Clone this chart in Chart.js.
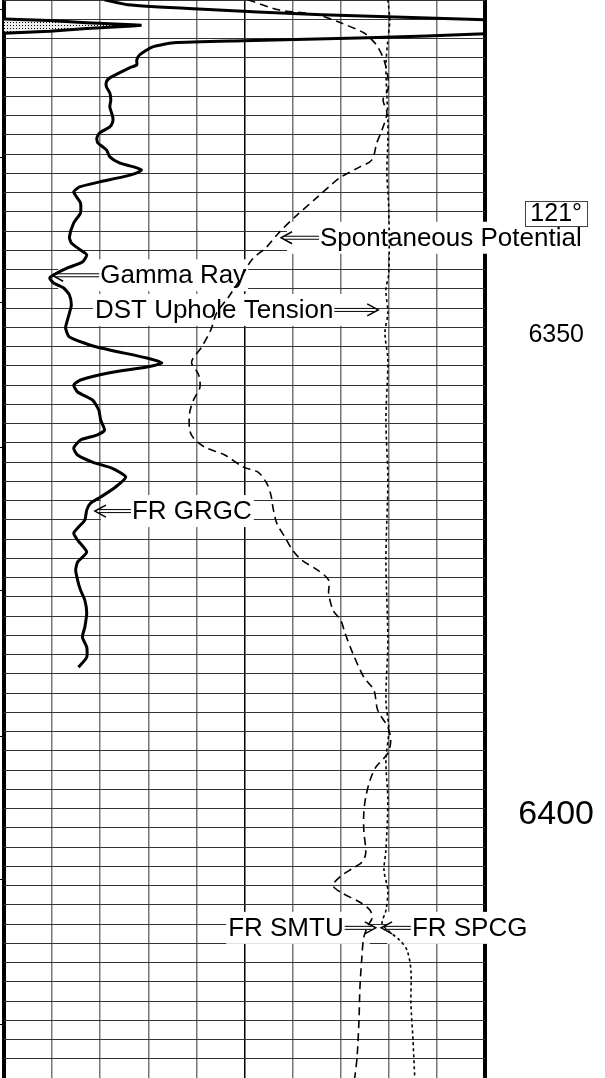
<!DOCTYPE html>
<html>
<head>
<meta charset="utf-8">
<script src="https://cdn.jsdelivr.net/npm/chart.js@4.4.0/dist/chart.umd.min.js"></script>
<style>
  html, body { margin: 0; padding: 0; background: #fff; }
  canvas { display: block; }
</style>
</head>
<body>
<canvas id="log" width="605" height="1078"></canvas>
<script>
// depth window of the strip, feet (top of page -> bottom of page)
const topDepth = 6315.3;
const bottomDepth = 6427.3;

// Gamma Ray, track divisions 0..10 (values past 10 run off the right edge)
const grDepth = [6315.28, 6315.80, 6316.22, 6316.84, 6317.36, 6317.93, 6318.81, 6319.23, 6319.54, 6319.75,
  6320.17, 6321.00, 6321.52, 6322.04, 6322.35, 6323.39, 6323.80, 6324.32, 6324.95, 6325.68,
  6326.40, 6327.44, 6327.96, 6328.48, 6329.11, 6329.63, 6330.15, 6330.87, 6331.60, 6332.22,
  6332.74, 6332.95, 6333.26, 6333.68, 6334.20, 6334.72, 6335.24, 6335.76, 6336.38, 6337.42,
  6338.46, 6339.92, 6340.54, 6341.27, 6341.79, 6342.52, 6343.14, 6343.87, 6344.18, 6344.70,
  6345.22, 6345.95, 6346.99, 6347.82, 6348.54, 6349.38, 6350.31, 6351.35, 6352.49, 6353.01,
  6353.43, 6354.05, 6354.78, 6355.30, 6356.03, 6356.86, 6357.90, 6358.94, 6359.98, 6360.50,
  6361.02, 6361.85, 6362.58, 6363.31, 6363.93, 6364.86, 6365.90, 6366.94, 6367.57, 6368.30,
  6369.33, 6370.06, 6370.69, 6371.41, 6372.66, 6373.70, 6374.53, 6375.57, 6376.61, 6377.65,
  6379.00, 6380.46, 6381.50, 6382.54, 6383.58, 6384.62];
const grValue = [2.09, 2.57, 3.94, 6.61, 10.00, 12.81, 10.00, 7.57, 4.98, 3.53,
  3.09, 2.82, 2.76, 2.76, 2.61, 2.20, 2.13, 2.13, 2.20, 2.22,
  2.20, 2.26, 2.26, 2.20, 1.99, 1.93, 1.95, 2.13, 2.20, 2.40,
  2.76, 2.86, 2.76, 2.47, 1.99, 1.57, 1.45, 1.51, 1.59, 1.59,
  1.45, 1.36, 1.40, 1.59, 1.72, 1.63, 1.32, 1.03, 0.95, 1.03,
  1.24, 1.36, 1.40, 1.36, 1.32, 1.28, 1.36, 1.93, 2.97, 3.28,
  2.97, 2.17, 1.59, 1.45, 1.53, 1.84, 1.97, 2.01, 2.09, 1.93,
  1.59, 1.45, 1.53, 1.84, 2.24, 2.53, 2.32, 2.01, 1.80, 1.72,
  1.68, 1.55, 1.45, 1.53, 1.72, 1.53, 1.49, 1.53, 1.59, 1.68,
  1.72, 1.68, 1.63, 1.72, 1.72, 1.55];

// backup (wrapped) gamma ray, the shaded spike at the left edge
const grBackDepth = [6317.28, 6317.44, 6317.66, 6317.88, 6317.93, 6317.99, 6318.26, 6318.54, 6318.76];
const grBackValue = [0, 0.95, 1.72, 2.67, 2.86, 2.67, 1.72, 0.95, 0];

// Spontaneous Potential (dashed)
const spDepth = [6315.28, 6316.32, 6316.84, 6317.67, 6318.71, 6319.44, 6320.17, 6321.52, 6323.28, 6324.64,
  6325.68, 6327.03, 6328.79, 6330.15, 6331.91, 6332.64, 6333.78, 6335.76, 6337.84, 6339.50,
  6340.96, 6342.31, 6344.39, 6346.15, 6347.82, 6349.58, 6351.35, 6352.91, 6354.05, 6354.78,
  6355.61, 6356.86, 6358.21, 6359.98, 6360.81, 6361.75, 6362.58, 6363.83, 6364.35, 6365.49,
  6366.74, 6367.98, 6369.65, 6371.10, 6372.45, 6373.49, 6374.53, 6375.57, 6376.92, 6378.69,
  6379.73, 6381.08, 6383.16, 6385.65, 6387.01, 6389.09, 6390.85, 6392.20, 6393.56, 6395.01,
  6396.36, 6398.13, 6399.79, 6401.56, 6403.95, 6404.89, 6405.51, 6406.34, 6407.28, 6408.00,
  6409.04, 6409.88, 6410.71, 6411.43, 6412.68, 6414.76, 6417.88, 6421.31, 6425.16, 6427.34];
const spValue = [5.07, 5.71, 6.52, 7.00, 7.48, 7.65, 7.77, 7.90, 7.98, 7.98,
  7.88, 7.96, 7.86, 7.75, 7.65, 7.40, 6.98, 6.52, 6.05, 5.71,
  5.46, 5.15, 4.90, 4.67, 4.42, 4.30, 4.11, 3.90, 4.03, 4.07,
  4.07, 3.94, 3.86, 3.86, 3.94, 4.17, 4.59, 4.98, 5.28, 5.46,
  5.55, 5.59, 5.67, 5.84, 6.00, 6.19, 6.52, 6.75, 6.75, 6.84,
  7.00, 7.09, 7.25, 7.48, 7.69, 7.77, 7.98, 8.04, 7.98, 7.73,
  7.61, 7.52, 7.48, 7.48, 7.52, 7.44, 7.25, 7.00, 6.84, 7.00,
  7.40, 7.61, 7.65, 7.57, 7.48, 7.44, 7.40, 7.38, 7.34, 7.29];

// DST Uphole Tension (dotted)
const dstDepth = [6315.28, 6317.36, 6319.44, 6322.25, 6327.75, 6330.15, 6333.26, 6337.11, 6343.66, 6345.43,
  6347.82, 6349.90, 6352.70, 6358.94, 6365.18, 6373.49, 6381.81, 6388.05, 6391.16, 6394.28,
  6398.44, 6403.64, 6405.72, 6407.80, 6409.88, 6411.23, 6411.96, 6413.00, 6414.03, 6416.11,
  6419.54, 6423.08, 6427.34];
const dstValue = [7.98, 8.02, 7.98, 7.94, 7.98, 7.98, 7.96, 8.00, 8.00, 7.94,
  7.98, 7.92, 7.98, 7.94, 7.98, 7.94, 7.98, 7.94, 8.00, 7.94,
  7.98, 7.94, 7.90, 7.98, 7.94, 7.86, 7.98, 8.23, 8.38, 8.46,
  8.46, 8.50, 8.54];

// depth numbers printed at the right, and small marks left of the track
const depthLabels = [6350, 6400];
const sideMarks = [6316.2, 6331.6, 6346.7, 6361.7, 6376.6, 6391.8, 6406.6, 6421.7];
const tempText = '121\u00b0';

// curve names with arrows: textAt = where the text starts, tip = arrow point (track divisions)
const notes = [
  { text: 'Spontaneous Potential', depth: 6340.0, textAt: 6.57, tip: 5.76 },
  { text: 'Gamma Ray', depth: 6343.9, textAt: 2.00, tip: 1.00 },
  { text: 'DST Uphole Tension', depth: 6347.5, textAt: 1.89, tip: 7.78 },
  { text: 'FR GRGC', depth: 6368.4, textAt: 2.66, tip: 1.89 },
  { text: 'FR SMTU', depth: 6411.7, textAt: 4.66, tip: 7.73 },
  { text: 'FR SPCG', depth: 6411.7, textAt: 8.48, tip: 7.84 }
];

const FONT = '"Liberation Sans", Arial, sans-serif';
const pts = (vals, depths) => vals.map((v, i) => ({ x: v, y: depths[i] }));

const canvas = document.getElementById('log');
const ctx0 = canvas.getContext('2d');

function dotPattern() {
  const c = document.createElement('canvas');
  c.width = 3; c.height = 3;
  const g = c.getContext('2d');
  g.fillStyle = '#eee'; g.fillRect(0, 0, 3, 3);
  g.fillStyle = '#000'; g.fillRect(1, 1, 1, 1);
  return ctx0.createPattern(c, 'repeat');
}

const notesPlugin = {
  id: 'notes',
  beforeDatasetsDraw(chart) {
    const { ctx, scales: { x, y } } = chart;
    ctx.save();
    ctx.font = '26px ' + FONT;
    ctx.textBaseline = 'middle';
    ctx.textAlign = 'left';
    notes.forEach(n => {
      const py = y.getPixelForValue(n.depth);
      const tx = x.getPixelForValue(n.textAt);
      const tip = x.getPixelForValue(n.tip);
      const w = ctx.measureText(n.text).width;
      const pointsLeft = tip < tx;
      const x0 = pointsLeft ? tip + 6 : tx - 2;
      const x1 = pointsLeft ? tx + w + 2 : tip - 6;
      ctx.fillStyle = '#fff';
      ctx.fillRect(x0, py - 16, x1 - x0, 32);
      ctx.fillStyle = '#000';
      ctx.fillText(n.text, tx, py + 1);

      // double shaft + open head
      const from = pointsLeft ? tx - 1 : tx + w + 1;
      const d = pointsLeft ? 1 : -1;
      ctx.strokeStyle = '#000';
      ctx.lineWidth = 1;
      ctx.beginPath();
      ctx.moveTo(from, py - 1.5); ctx.lineTo(tip + d * 4, py - 1.5);
      ctx.moveTo(from, py + 1.5); ctx.lineTo(tip + d * 4, py + 1.5);
      ctx.stroke();
      ctx.lineWidth = 1.5;
      ctx.beginPath();
      ctx.moveTo(tip + d * 11, py - 6);
      ctx.lineTo(tip, py);
      ctx.lineTo(tip + d * 11, py + 6);
      ctx.stroke();
    });
    ctx.restore();
  },
  afterDraw(chart) {
    const { ctx, chartArea, scales: { x, y } } = chart;
    ctx.save();
    ctx.fillStyle = '#000';
    ctx.textAlign = 'center';
    ctx.textBaseline = 'middle';
    const cx = x.getPixelForValue(11.48);
    depthLabels.forEach(d => {
      const big = d % 100 === 0;
      ctx.font = (big ? 34 : 25) + 'px ' + FONT;
      ctx.fillText(String(d), cx, y.getPixelForValue(d) + (big ? -1 : 1));
    });

    // bottom-hole temperature box
    ctx.font = '25px ' + FONT;
    const ty = y.getPixelForValue(6337.4);
    const tw = ctx.measureText(tempText).width;
    ctx.fillText(tempText, cx, ty + 1);
    ctx.strokeStyle = '#444';
    ctx.lineWidth = 1;
    ctx.strokeRect(Math.round(cx - tw / 2 - 5) + 0.5, Math.round(ty - 12) + 0.5, Math.round(tw + 10), 25);

    ctx.lineWidth = 1;
    ctx.strokeStyle = '#000';
    sideMarks.forEach(d => {
      const py = Math.round(y.getPixelForValue(d)) + 0.5;
      ctx.beginPath();
      ctx.moveTo(0, py);
      ctx.lineTo(chartArea.left - 2, py);
      ctx.stroke();
    });
    ctx.restore();
  }
};

new Chart(canvas, {
  type: 'scatter',
  data: {
    datasets: [
      {
        label: 'Gamma Ray',
        data: pts(grValue, grDepth),
        showLine: true,
        borderColor: '#000',
        borderWidth: 3,
        pointRadius: 0,
        tension: 0.2
      },
      {
        label: 'Gamma Ray backup',
        data: pts(grBackValue, grBackDepth),
        showLine: true,
        borderColor: '#000',
        borderWidth: 3,
        backgroundColor: dotPattern(),
        fill: 'shape',
        pointRadius: 0,
        tension: 0
      },
      {
        label: 'Spontaneous Potential',
        data: pts(spValue, spDepth),
        showLine: true,
        borderColor: '#000',
        borderWidth: 1.6,
        borderDash: [8, 5],
        pointRadius: 0,
        tension: 0.3
      },
      {
        label: 'DST Uphole Tension',
        data: pts(dstValue, dstDepth),
        showLine: true,
        borderColor: '#000',
        borderWidth: 1.6,
        borderDash: [3, 3],
        pointRadius: 0,
        tension: 0.3
      }
    ]
  },
  options: {
    responsive: false,
    animation: false,
    events: [],
    layout: { padding: { left: 4, right: 120, top: 0, bottom: 0 } },
    plugins: {
      legend: { display: false },
      tooltip: { enabled: false }
    },
    scales: {
      x: {
        type: 'linear',
        min: 0,
        max: 10,
        ticks: { display: false, stepSize: 1 },
        border: { display: false },
        grid: {
          drawTicks: false,
          color: c => (c.tick.value % 5 === 0 ? '#000' : '#777'),
          lineWidth: c => (c.tick.value === 0 || c.tick.value === 10 ? 4 : 1.5)
        }
      },
      y: {
        type: 'linear',
        reverse: true,
        min: topDepth,
        max: bottomDepth,
        ticks: { display: false, stepSize: 2, includeBounds: false },
        border: { display: false },
        grid: {
          drawTicks: false,
          color: c => (c.tick.value % 10 === 0 ? '#000' : '#333'),
          lineWidth: c => (c.tick.value % 50 === 0 ? 3 : c.tick.value % 10 === 0 ? 2 : 1)
        }
      }
    }
  },
  plugins: [notesPlugin]
});
</script>
</body>
</html>
